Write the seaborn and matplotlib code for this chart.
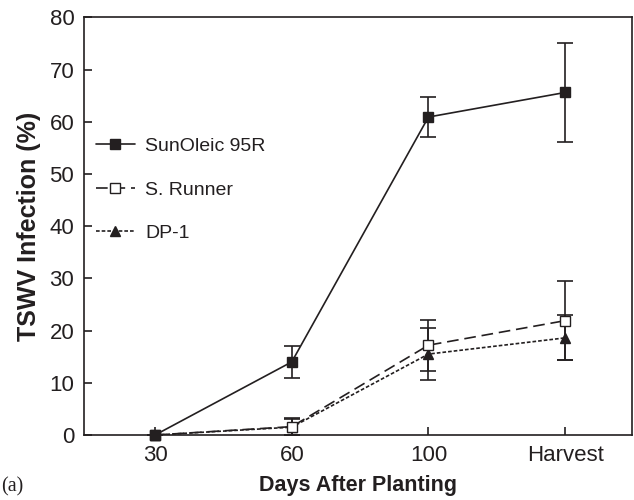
import numpy as np
import pandas as pd
import matplotlib
matplotlib.use("Agg")
import matplotlib.pyplot as plt
import seaborn as sns

days = ["30", "60", "100", "Harvest"]
sunoleic = [0.0, 14.0, 60.9, 65.6]
sunoleic_err = [0.0, 3.1, 3.9, 9.4]
srunner = [0.0, 1.6, 17.2, 21.9]
srunner_err = [0.0, 1.6, 4.9, 7.5]
dp1 = [0.0, 1.5, 15.5, 18.6]
dp1_err = [0.0, 1.5, 5.0, 4.3]
series = ["SunOleic 95R", "S. Runner", "DP-1"]

sns.set_theme(style="white")
plt.rcParams['font.family'] = ['Liberation Sans', 'DejaVu Sans']

pos = np.arange(len(days))
df = pd.concat([
    pd.DataFrame({"x": pos, "y": sunoleic, "err": sunoleic_err, "Line": series[0]}),
    pd.DataFrame({"x": pos, "y": srunner, "err": srunner_err, "Line": series[1]}),
    pd.DataFrame({"x": pos, "y": dp1, "err": dp1_err, "Line": series[2]}),
])

fig = plt.figure(figsize=(6.34, 5.0), dpi=100)
ax = fig.add_axes([0.1325, 0.13, 0.8645, 0.8354])

styles = {
    series[0]: dict(ls="-", marker="s", mfc="#231f20", z=6),
    series[1]: dict(ls=(0, (7, 3.5)), marker="s", mfc="white", z=5),
    series[2]: dict(ls=(0, (2.2, 1.2)), marker="^", mfc="#231f20", z=4),
}
c = "#231f20"
handles = []
for name in series:
    sub = df[df["Line"] == name]
    st = styles[name]
    sns.lineplot(data=sub, x="x", y="y", ax=ax, color=c, lw=1.2,
                 linestyle=st["ls"], legend=False, zorder=2)
    ax.errorbar(sub["x"], sub["y"], yerr=sub["err"], fmt="none",
                ecolor=c, elinewidth=1.2, capsize=5.5, capthick=1.2,
                zorder=3, clip_on=False)
    ax.plot(sub["x"], sub["y"], linestyle="none", marker=st["marker"],
            ms=6.5, mfc=st["mfc"], mec=c, mew=1.0, zorder=st["z"],
            clip_on=False)
    lh, = ax.plot([], [], color=c, lw=1.2, linestyle=st["ls"],
                  marker=st["marker"], ms=6.5, mfc=st["mfc"], mec=c, mew=1.0)
    handles.append(lh)

ax.set_xlim(-0.52, 3.49)
ax.set_ylim(0, 80)
ax.set_xticks(pos)
ax.set_xticklabels(days)
ax.set_yticks(np.arange(0, 81, 10))
for s in ax.spines.values():
    s.set_color(c)
    s.set_linewidth(1.2)
    s.set_visible(True)
ax.tick_params(axis="both", direction="in", length=6, width=1.2,
               colors=c, labelsize=16, labelcolor=c, pad=7,
               bottom=True, left=True, top=False, right=False)
ax.set_xlabel("Days After Planting", fontsize=15.5, fontweight="bold",
              color=c, labelpad=7)
ax.set_ylabel("TSWV Infection (%)", fontsize=18, fontweight="bold",
              color=c, labelpad=6)
fig.text(0.001, 0.026, "(a)", fontsize=14.5, color=c, ha="left", va="center",
         family=["Liberation Serif", "DejaVu Serif"])

leg = ax.legend(handles, series, loc="upper left", bbox_to_anchor=(0.0, 0.74),
                frameon=False, fontsize=14, handlelength=2.0,
                handletextpad=0.55, labelspacing=1.33, borderaxespad=0.2)
for t in leg.get_texts():
    t.set_color(c)

fig.savefig("out.png", dpi=100)
